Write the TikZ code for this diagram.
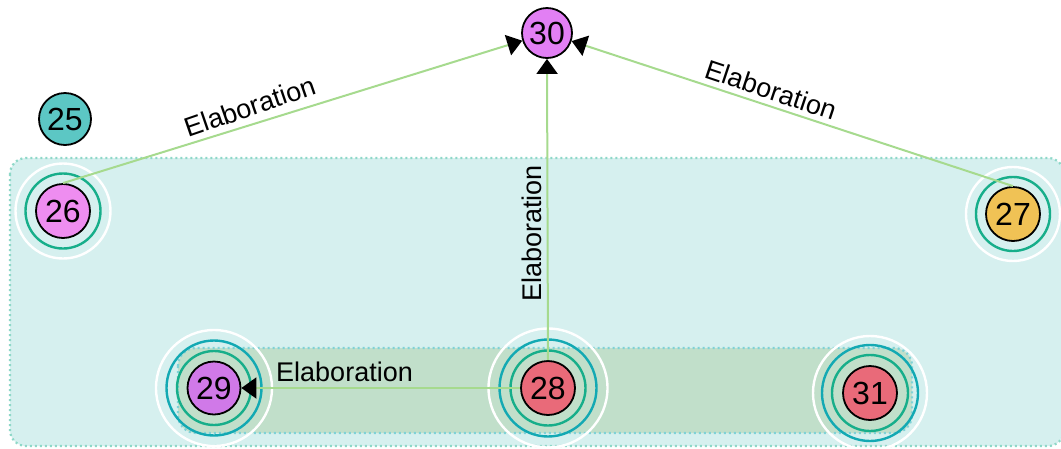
\documentclass[tikz,border=0pt]{standalone}
\usepackage{fontspec}
\setmainfont{Liberation Sans}
\usetikzlibrary{arrows.meta}
\definecolor{outerfill}{HTML}{D6F0EF}
\definecolor{outerline}{HTML}{8ED8C8}
\definecolor{innerfill}{HTML}{C1DFCA}
\definecolor{innerline}{HTML}{7FD2D6}
\definecolor{edgecol}{HTML}{A6DA8E}
\definecolor{ringgreen}{HTML}{17AE8A}
\definecolor{ringteal}{HTML}{13A9B3}
\definecolor{cviolet}{HTML}{E27FF4}
\definecolor{cpink}{HTML}{EE8DF0}
\definecolor{cpurple}{HTML}{D079E8}
\definecolor{cteal}{HTML}{5CC7C4}
\definecolor{cyellow}{HTML}{F0C255}
\definecolor{cred}{HTML}{E96A79}
\tikzset{
  unit/.style={circle,draw=black,line width=1.8pt,inner sep=0pt,minimum size=#1,font=\fontsize{32}{34}\selectfont},
  rel/.style={draw=edgecol,line width=2pt,-{Triangle[length=15pt,width=21pt,fill=black,color=black]}},
  rellabel/.style={anchor=south,font=\fontsize{27}{30}\selectfont,inner sep=5pt},
  gring/.style={draw=ringgreen,line width=2.4pt},
  tring/.style={draw=ringteal,line width=2.4pt},
  wring/.style={draw=white,line width=2.4pt},
  outerbox/.style={fill=outerfill,draw=outerline,line width=2.2pt,dash pattern=on 2pt off 3pt,rounded corners=16pt},
  innerbox/.style={fill=innerfill,draw=innerline,line width=2.2pt,dash pattern=on 2pt off 3pt,rounded corners=18pt},
}
\begin{document}
\begin{tikzpicture}[x=1pt,y=-1pt]
\useasboundingbox (0,0) rectangle (1061,448);
% group boxes
\path[outerbox] (10,158) rectangle (1064,446);
\path[innerbox] (178,348) rectangle (912,433);
% rings
\draw[wring] (63,211) circle (47.5);
\draw[gring] (63,211) circle (37.5);
\draw[wring] (1013,214) circle (47);
\draw[gring] (1013,214) circle (37);
\draw[wring] (214,388) circle (58);
\draw[tring] (214,388) circle (47.5);
\draw[gring] (214,388) circle (37);
\draw[wring] (548,388) circle (59.5);
\draw[tring] (548,388) circle (48.5);
\draw[gring] (548,388) circle (37.5);
\draw[wring] (870,393) circle (57);
\draw[tring] (870,393) circle (48);
\draw[gring] (870,393) circle (38);
% nodes
\node[unit=50pt,fill=cviolet] (n30) at (547,33) {30};
\node[unit=52pt,fill=cteal] (n25) at (65,119) {25};
\node[unit=54pt,fill=cpink] (n26) at (63,211) {26};
\node[unit=54pt,fill=cyellow] (n27) at (1013,214) {27};
\node[unit=53pt,fill=cpurple] (n29) at (214,388) {29};
\node[unit=54pt,fill=cred] (n28) at (548,388) {28};
\node[unit=54pt,fill=cred] (n31) at (870,393) {31};
% relations
\draw[rel] (n26.north) -- (n30) node[rellabel,pos=0.42,rotate=19,inner sep=7pt] {Elaboration};
\draw[rel] (n27.north) -- (n30) node[rellabel,pos=0.56,rotate=-18.5] {Elaboration};
\draw[rel] (n28.north) -- (n30.south) node[rellabel,pos=0.42,rotate=90] {Elaboration};
\draw[rel] (n28.west) -- (n29.east) node[rellabel,pos=0.63] {Elaboration};
\end{tikzpicture}
\end{document}
